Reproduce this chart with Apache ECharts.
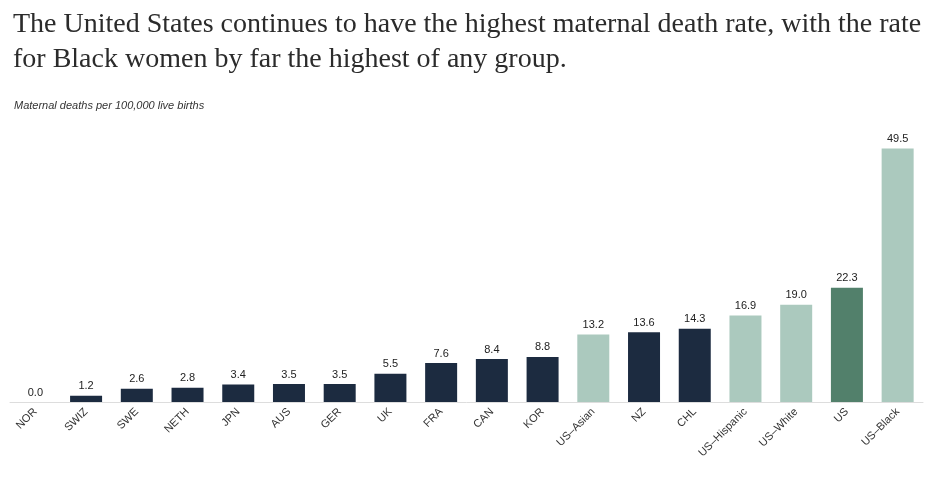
<!DOCTYPE html>
<html><head><meta charset="utf-8">
<script src="https://cdn.jsdelivr.net/npm/echarts@6/dist/echarts.min.js"></script>
<style>html,body{margin:0;padding:0;background:#fff}#c{width:936px;height:484px}</style>
</head><body><div id="c"></div>
<script>
const categories = ['NOR','SWIZ','SWE','NETH','JPN','AUS','GER','UK','FRA','CAN','KOR','US–Asian','NZ','CHL','US–Hispanic','US–White','US','US–Black'];
const values = [0.0,1.2,2.6,2.8,3.4,3.5,3.5,5.5,7.6,8.4,8.8,13.2,13.6,14.3,16.9,19.0,22.3,49.5];
const groups = ['intl','intl','intl','intl','intl','intl','intl','intl','intl','intl','intl','usgroup','intl','intl','usgroup','usgroup','us','usgroup'];
const colorMap = {intl:'#1c2b40', usgroup:'#abc9be', us:'#52806b'};
const chart = echarts.init(document.getElementById('c'));
chart.setOption({
  animation:false,
  title:[{
    text:'The United States continues to have the highest maternal death rate, with the rate\nfor Black women by far the highest of any group.',
    left:8, top:2,
    textStyle:{fontFamily:'Liberation Serif', fontSize:28, fontWeight:'normal', color:'#2b2b2b', lineHeight:35}
  },{
    text:'Maternal deaths per 100,000 live births',
    left:9, top:95,
    textStyle:{fontFamily:'Liberation Sans', fontSize:11, fontStyle:'italic', fontWeight:'normal', color:'#333'}
  }],
  grid:{left:10, right:13, top:146, bottom:82},
  xAxis:{type:'category', data:categories,
    axisLine:{lineStyle:{color:'#dddddd'}}, axisTick:{show:false},
    axisLabel:{rotate:45, interval:0, fontFamily:'Liberation Sans', fontSize:11, color:'#333', margin:8}},
  yAxis:{type:'value', min:0, max:50, show:false, splitLine:{show:false}},
  series:[{type:'bar', barWidth:32,
    data:values.map((v,i)=>({value:v, itemStyle:{color:colorMap[groups[i]]}})),
    label:{show:true, position:'top', distance:4, formatter:p=>p.value.toFixed(1), fontFamily:'Liberation Sans', fontSize:11, color:'#222'}
  }]
});
</script></body></html>
